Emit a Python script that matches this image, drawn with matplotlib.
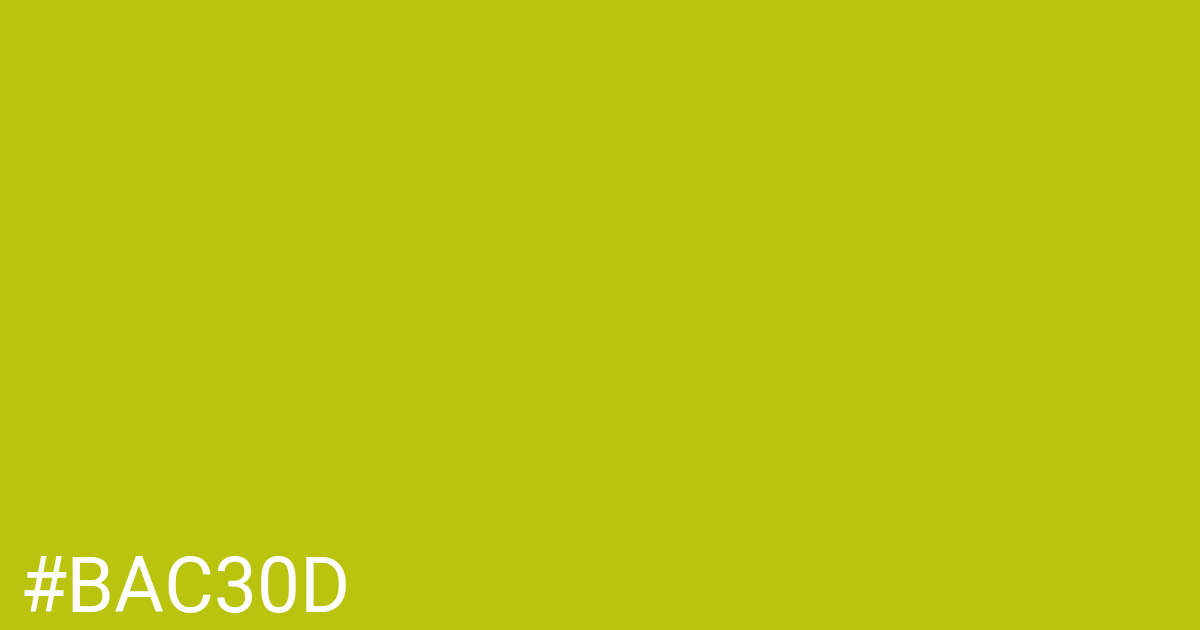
import matplotlib
matplotlib.use("Agg")
import matplotlib.pyplot as plt

swatch_color = "#BAC30D"
label = "#BAC30D"

fig = plt.figure(figsize=(12, 6.3), dpi=100)
fig.patch.set_facecolor(swatch_color)

# label sits in the lower left corner, baseline ~18px above the bottom edge
fig.text(20 / 1200, 18 / 630, label, color="white", family="Roboto",
         fontsize=55.2, ha="left", va="baseline")

fig.savefig("out.png", dpi=100, facecolor=swatch_color)
